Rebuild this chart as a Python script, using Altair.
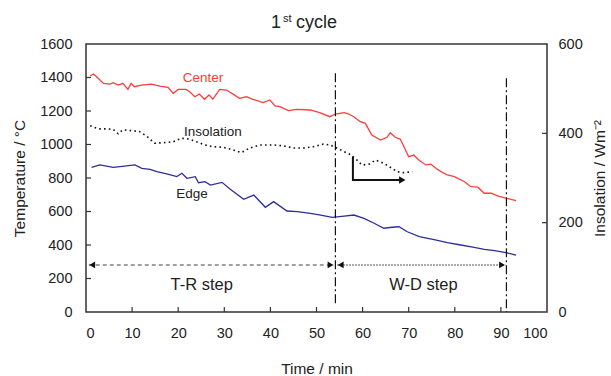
import altair as alt
import pandas as pd

# ---------------- data ----------------
center_t = [0.9, 1.6, 2.3, 3.8, 5.2, 5.9, 7.0, 8.0, 9.1, 9.8, 10.5, 12, 14.2, 16, 17.8, 18.9, 20,
            21.7, 22.5, 23.6, 24.6, 25.7, 26.7, 27.5, 29, 30.5, 31.9, 33.3, 34.8, 36.2, 38.4, 39.9,
            41, 42.1, 43.9, 45.7, 48.6, 50.7, 52.9, 54.1, 56, 57, 58.1, 59.5, 60.6, 62, 63.9, 65.3,
            66, 67.1, 68.2, 69.3, 70, 71.1, 72.2, 73.7, 74.8, 75.9, 77, 78.4, 79.9, 82.1, 83.5, 85,
            86.4, 87.9, 89.3, 91.2, 93.3]
center_v = [1409, 1421, 1405, 1365, 1361, 1369, 1355, 1365, 1329, 1365, 1345, 1355, 1361, 1349, 1341,
            1306, 1329, 1329, 1315, 1285, 1301, 1270, 1296, 1270, 1329, 1325, 1301, 1276, 1285, 1270,
            1250, 1266, 1230, 1226, 1202, 1210, 1206, 1190, 1166, 1182, 1190, 1182, 1166, 1136, 1126,
            1057, 1027, 1043, 1070, 1043, 1031, 967, 927, 937, 907, 878, 883, 858, 838, 818, 808, 778,
            748, 745, 709, 709, 693, 679, 665]

edge_t = [1.2, 3, 5.9, 7.4, 10.6, 12.1, 13.9, 15.4, 17.5, 19.7, 20.8, 21.9, 23.7, 24.4, 25.8, 27,
          29.5, 31.3, 34.2, 36.4, 38.9, 40.7, 43.6, 45.8, 48.7, 50.9, 53.4, 56, 58.1, 60.3, 62.5,
          64.6, 66.4, 67.9, 69.7, 72.3, 75.5, 78.4, 81.3, 84.2, 86.4, 88.6, 91.1, 93.3]
edge_v = [864, 878, 864, 868, 878, 858, 852, 838, 824, 808, 828, 798, 808, 772, 778, 758, 774, 733,
          673, 698, 625, 659, 603, 599, 589, 579, 565, 573, 579, 559, 530, 500, 506, 509, 479, 450,
          432, 414, 400, 386, 374, 366, 354, 340]

ins_t = [0.9, 2.7, 4.5, 5.9, 7.0, 8.0, 9.8, 11.6, 13.1, 14.9, 16.7, 18.9, 20.7, 22.5, 24, 25.8,
         27.5, 29.7, 31.9, 33.7, 35.5, 37.7, 40.6, 42.8, 45, 47.1, 49.3, 51.5, 52.9, 54.4, 55.6,
         57.4, 58.8, 59.9, 61.4, 62.8, 64.6, 66, 67.5, 68.9, 70.8]
ins_v = [417, 410, 410, 409, 399, 408, 406, 404, 394, 378, 379, 381, 389, 387, 381, 374, 370, 369,
         363, 357, 367, 374, 374, 372, 367, 367, 370, 376, 374, 367, 361, 352, 340, 329, 331, 340,
         333, 324, 314, 312, 314]

# step boundaries (time, top temperature, bottom temperature)
bound_t = [54.1, 91.2]
bound_top = [1425, 1395]
bound_bottom = [50, 0]

# step arrows: start, end, level (temperature)
step_names = ["T-R step", "W-D step"]
step_start = [0.6, 54.5]
step_end = [53.8, 91.0]
step_level = [281, 281]
step_label_t = [25.1, 73.2]
step_label_v = [161, 164]

# small bent arrow near insolation
bend_t = [57.9, 57.9, 68.4]
bend_v = [928, 788, 788]
bend_tip_t = [68.6]
bend_tip_v = [788]

# series labels
label_text = ["Center", "Insolation", "Edge"]
label_t = [25.4, 27.5, 23.0]
label_v = [1397, 1075, 704]
label_color = ["#ff3b3b", "#222222", "#222222"]

x_ticks = [0, 10, 20, 30, 40, 50, 60, 70, 80, 90, 100]
y_ticks = [0, 200, 400, 600, 800, 1000, 1200, 1400, 1600]
r_ticks = [0, 200, 400, 600]
title_parts = ["1", "st", "cycle"]

# ---------------- chart ----------------
W, H = 461, 268
FONT = "Liberation Sans"
TXT = "#222222"
RED = "#ff3b3b"
BLUE = "#2e2e96"

xs = alt.Scale(domain=[0, 100], nice=False, zero=False)
ys = alt.Scale(domain=[0, 1600], nice=False)
ris = alt.Scale(domain=[0, 600], nice=False)

common_axis = dict(grid=False, domain=False, ticks=False, tickSize=0, labelFont=FONT,
                   titleFont=FONT, labelFontSize=14.5, titleFontSize=15.5,
                   titleFontWeight="normal", labelColor=TXT, titleColor=TXT, format="d")

x_axis = alt.Axis(values=x_ticks, title="Time / min", labelPadding=14, titlePadding=22,
                  **common_axis)
y_axis = alt.Axis(values=y_ticks, title="Temperature / °C", labelPadding=14, titlePadding=12,
                  **common_axis)
r_axis = alt.Axis(values=r_ticks, title="Insolation / Wm⁻²", orient="right", labelPadding=11,
                  titlePadding=25, titleAngle=270, **common_axis)


def X(field):
    return alt.X(field, scale=xs, axis=x_axis)


def Y(field):
    return alt.Y(field, scale=ys, axis=y_axis)


def R(field):
    return alt.Y(field, scale=ris, axis=r_axis)


center_df = pd.DataFrame({"t": center_t, "v": center_v})
edge_df = pd.DataFrame({"t": edge_t, "v": edge_v})
ins_df = pd.DataFrame({"t": ins_t, "v": ins_v})

center = alt.Chart(center_df).mark_line(color=RED, strokeWidth=1.3).encode(
    x=X("t:Q"), y=Y("v:Q"))
edge = alt.Chart(edge_df).mark_line(color=BLUE, strokeWidth=1.3).encode(
    x=X("t:Q"), y=Y("v:Q"))

bounds_df = pd.DataFrame({"t": bound_t, "top": bound_top, "bottom": bound_bottom})
bounds = alt.Chart(bounds_df).mark_rule(color="#111", strokeWidth=1.2,
                                        strokeDash=[9, 3, 2, 3]).encode(
    x=X("t:Q"), y=Y("top:Q"), y2="bottom:Q")

steps_df = pd.DataFrame({"name": step_names, "s": step_start, "e": step_end, "v": step_level})
tr_line = alt.Chart(steps_df.iloc[[0]]).mark_rule(color="#444", strokeWidth=1.1,
                                                  strokeDash=[4, 3]).encode(
    x=X("s:Q"), x2="e:Q", y=Y("v:Q"))
wd_line = alt.Chart(steps_df.iloc[[1]]).mark_rule(color="#222", strokeWidth=1.1,
                                                  strokeDash=[1.5, 1.5]).encode(
    x=X("s:Q"), x2="e:Q", y=Y("v:Q"))
heads_df = pd.DataFrame({
    "t": [step_start[0] + 0.75, step_end[0] - 0.75, step_start[1] + 0.75, step_end[1] - 0.75],
    "v": step_level + step_level,
    "shape": ["triangle-left", "triangle-right", "triangle-left", "triangle-right"],
})
heads = alt.Chart(heads_df).mark_point(filled=True, color="#111", opacity=1, size=45,
                                       strokeWidth=0).encode(
    x=X("t:Q"), y=Y("v:Q"), shape=alt.Shape("shape:N", scale=None))
step_labels = alt.Chart(pd.DataFrame({"name": step_names, "t": step_label_t,
                                      "v": step_label_v})).mark_text(
    font=FONT, fontSize=16.5, color=TXT).encode(
    x=X("t:Q"), y=Y("v:Q"), text="name:N")

bend_df = pd.DataFrame({"t": bend_t, "v": bend_v, "o": [0, 1, 2]})
bend = alt.Chart(bend_df).mark_line(color="#111", strokeWidth=2).encode(
    x=X("t:Q"), y=Y("v:Q"), order="o:Q")
bend_head = alt.Chart(pd.DataFrame({"t": bend_tip_t, "v": bend_tip_v})).mark_point(
    shape="triangle-right", filled=True, color="#111", opacity=1, size=55, strokeWidth=0).encode(
    x=X("t:Q"), y=Y("v:Q"))

labels_df = pd.DataFrame({"txt": label_text, "t": label_t, "v": label_v, "c": label_color})
labels = alt.Chart(labels_df).mark_text(font=FONT, fontSize=13.5).encode(
    x=X("t:Q"), y=Y("v:Q"), text="txt:N", color=alt.Color("c:N", scale=None))

xt = alt.Chart(pd.DataFrame({"t": x_ticks[1:-1]})).mark_rule(color="#333", strokeWidth=1.2).encode(
    x=X("t:Q"), y=alt.value(H), y2=alt.value(H - 5))
yt = alt.Chart(pd.DataFrame({"v": y_ticks[1:-1]})).mark_rule(color="#333", strokeWidth=1.2).encode(
    y=Y("v:Q"), x=alt.value(0), x2=alt.value(5))

title_df = pd.DataFrame({"s": title_parts})
t1 = alt.Chart(title_df.iloc[[0]]).mark_text(font=FONT, fontSize=18, align="left",
                                             baseline="alphabetic", color=TXT).encode(
    text="s:N", x=alt.value(185), y=alt.value(-16))
t2 = alt.Chart(title_df.iloc[[1]]).mark_text(font=FONT, fontSize=11, align="left",
                                             baseline="alphabetic", color=TXT).encode(
    text="s:N", x=alt.value(197), y=alt.value(-22))
t3 = alt.Chart(title_df.iloc[[2]]).mark_text(font=FONT, fontSize=18, align="left",
                                             baseline="alphabetic", color=TXT).encode(
    text="s:N", x=alt.value(210), y=alt.value(-16))

temp_layer = alt.layer(center, edge, bounds, tr_line, wd_line, heads, step_labels, bend,
                       bend_head, labels, xt, yt, t1, t2, t3)

ins = alt.Chart(ins_df).mark_line(color="#111", strokeWidth=1.6, strokeDash=[1.6, 3.2]).encode(
    x=X("t:Q"), y=R("v:Q"))
rt = alt.Chart(pd.DataFrame({"v": r_ticks[1:-1]})).mark_rule(color="#333", strokeWidth=1.2).encode(
    y=R("v:Q"), x=alt.value(W), x2=alt.value(W - 5))
ins_layer = alt.layer(ins, rt)

chart = alt.layer(temp_layer, ins_layer).resolve_scale(y="independent").properties(
    width=W, height=H,
    padding={"left": 86, "top": 44, "right": 64, "bottom": 64},
    autosize=alt.AutoSizeParams(type="none"),
    background="white",
).configure_view(stroke="#333", strokeWidth=1.5)

chart.save("out.html", embed_options={"renderer": "svg", "actions": False})
